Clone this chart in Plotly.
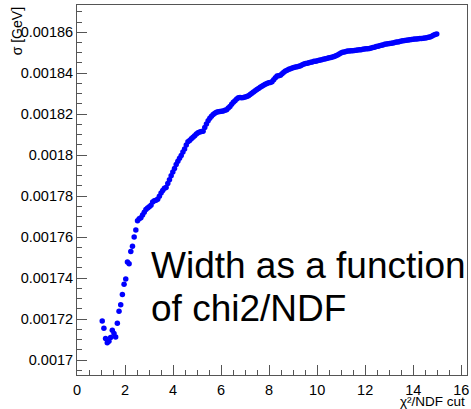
import numpy as np
import plotly.graph_objects as go

# chi2/NDF cut values: regular grid starting at 1.05 in steps of 0.07
cut_start = 1.05
cut_step = 0.07
n_cuts = 200
chi2_cut = np.round(cut_start + cut_step * np.arange(n_cuts), 2)

# fitted width sigma [GeV] for each cut
sigma = [
    0.0017190, 0.0017155, 0.0017105, 0.0017085, 0.0017092, 0.0017110, 0.0017145, 0.0017130,
    0.0017112, 0.0017180, 0.0017238, 0.0017270, 0.0017320, 0.0017370, 0.0017395, 0.0017478,
    0.0017470, 0.0017530, 0.0017555, 0.0017600, 0.0017635, 0.0017680, 0.0017690, 0.0017695,
    0.0017708, 0.0017722, 0.0017735, 0.0017742, 0.0017748, 0.0017755, 0.0017772, 0.0017778,
    0.0017780, 0.0017785, 0.0017800, 0.0017815, 0.0017828, 0.0017838, 0.0017842, 0.0017862,
    0.0017880, 0.0017900, 0.0017918, 0.0017935, 0.0017955, 0.0017970, 0.0017985, 0.0017998,
    0.0018015, 0.0018030, 0.0018050, 0.0018065, 0.0018072, 0.0018080, 0.0018088, 0.0018095,
    0.0018103, 0.0018110, 0.0018113, 0.0018115, 0.0018117, 0.0018135, 0.0018152, 0.0018168,
    0.0018180, 0.0018190, 0.0018198, 0.0018205, 0.0018210, 0.0018212, 0.0018213, 0.0018214,
    0.0018216, 0.0018219, 0.0018222, 0.0018230, 0.0018238, 0.0018248, 0.0018258, 0.0018266,
    0.0018274, 0.0018280, 0.0018281, 0.0018280, 0.0018282, 0.0018284, 0.0018286, 0.0018290,
    0.0018296, 0.0018302, 0.0018308, 0.0018314, 0.0018320, 0.0018325, 0.0018331, 0.0018337,
    0.0018341, 0.0018346, 0.0018350, 0.0018353, 0.0018355, 0.0018358, 0.0018368, 0.0018378,
    0.0018386, 0.0018388, 0.0018390, 0.0018397, 0.0018405, 0.0018411, 0.0018415, 0.0018419,
    0.0018422, 0.0018425, 0.0018428, 0.0018430, 0.0018432, 0.0018434, 0.0018437, 0.0018441,
    0.0018445, 0.0018447, 0.0018449, 0.0018451, 0.0018453, 0.0018455, 0.0018458, 0.0018459,
    0.0018461, 0.0018463, 0.0018465, 0.0018467, 0.0018469, 0.0018471, 0.0018473, 0.0018475,
    0.0018477, 0.0018479, 0.0018482, 0.0018485, 0.0018489, 0.0018494, 0.0018499, 0.0018502,
    0.0018504, 0.0018506, 0.0018508, 0.0018509, 0.0018510, 0.0018510, 0.0018511, 0.0018512,
    0.0018513, 0.0018514, 0.0018515, 0.0018517, 0.0018518, 0.0018519, 0.0018520, 0.0018521,
    0.0018523, 0.0018525, 0.0018527, 0.0018530, 0.0018532, 0.0018534, 0.0018536, 0.0018538,
    0.0018541, 0.0018543, 0.0018544, 0.0018545, 0.0018546, 0.0018548, 0.0018550, 0.0018552,
    0.0018553, 0.0018555, 0.0018557, 0.0018559, 0.0018560, 0.0018561, 0.0018562, 0.0018563,
    0.0018565, 0.0018566, 0.0018567, 0.0018567, 0.0018568, 0.0018569, 0.0018570, 0.0018571,
    0.0018572, 0.0018573, 0.0018575, 0.0018577, 0.0018580, 0.0018585, 0.0018589, 0.0018592,
]

x_tick_vals = [0, 2, 4, 6, 8, 10, 12, 14, 16]
y_tick_vals = [0.0017, 0.00172, 0.00174, 0.00176, 0.00178, 0.0018,
               0.00182, 0.00184, 0.00186]
y_tick_text = ["0.0017", "0.00172", "0.00174", "0.00176", "0.00178", "0.0018",
               "0.00182", "0.00184", "0.00186"]

FONT = "Liberation Sans, Arial, sans-serif"
AXIS_COLOR = "#555555"

fig = go.Figure()
fig.add_trace(go.Scatter(
    x=chi2_cut, y=sigma, mode="markers",
    marker=dict(color="#0000ff", size=5.5, line=dict(width=0)),
    showlegend=False,
))

axis_common = dict(
    showline=True, linecolor=AXIS_COLOR, linewidth=1, mirror=True,
    ticks="inside", ticklen=10, tickcolor=AXIS_COLOR, tickwidth=1,
    showgrid=False, zeroline=False, ticklabeloverflow="allow",
    tickfont=dict(family=FONT, size=14.5, color="black"),
)

fig.update_xaxes(
    range=[0, 16.24], tickvals=x_tick_vals, ticklabelstandoff=2,
    minor=dict(dtick=0.5, ticks="inside", ticklen=5, tickcolor=AXIS_COLOR, showgrid=False),
    **axis_common,
)
fig.update_yaxes(
    range=[0.0016927, 0.0018733], tickvals=y_tick_vals, ticktext=y_tick_text,
    minor=dict(dtick=0.000005, ticks="inside", ticklen=5, tickcolor=AXIS_COLOR, showgrid=False),
    **axis_common,
)

annotations = [
    # axis titles
    dict(text="σ [GeV]", x=-60 / 392, y=1.0, xref="paper", yref="paper",
         xanchor="center", yanchor="top", textangle=-90, showarrow=False,
         font=dict(family=FONT, size=14, color="black")),
    dict(text="χ²/NDF cut", x=1.0, y=-0.071, xref="paper", yref="paper",
         xanchor="right", yanchor="middle", showarrow=False,
         font=dict(family=FONT, size=13.5, color="black")),
    # large in-plot caption
    dict(text="Width as a function", x=0.185, y=0.297, xref="paper", yref="paper",
         xanchor="left", yanchor="middle", showarrow=False,
         font=dict(family=FONT, size=37, color="black")),
    dict(text="of chi2/NDF", x=0.185, y=0.180, xref="paper", yref="paper",
         xanchor="left", yanchor="middle", showarrow=False,
         font=dict(family=FONT, size=37, color="black")),
]
fig.update_layout(annotations=annotations)

fig.update_layout(
    width=471, height=409,
    margin=dict(l=77, r=2, t=5, b=34),
    paper_bgcolor="white", plot_bgcolor="white",
)

fig.write_html("out.html")
